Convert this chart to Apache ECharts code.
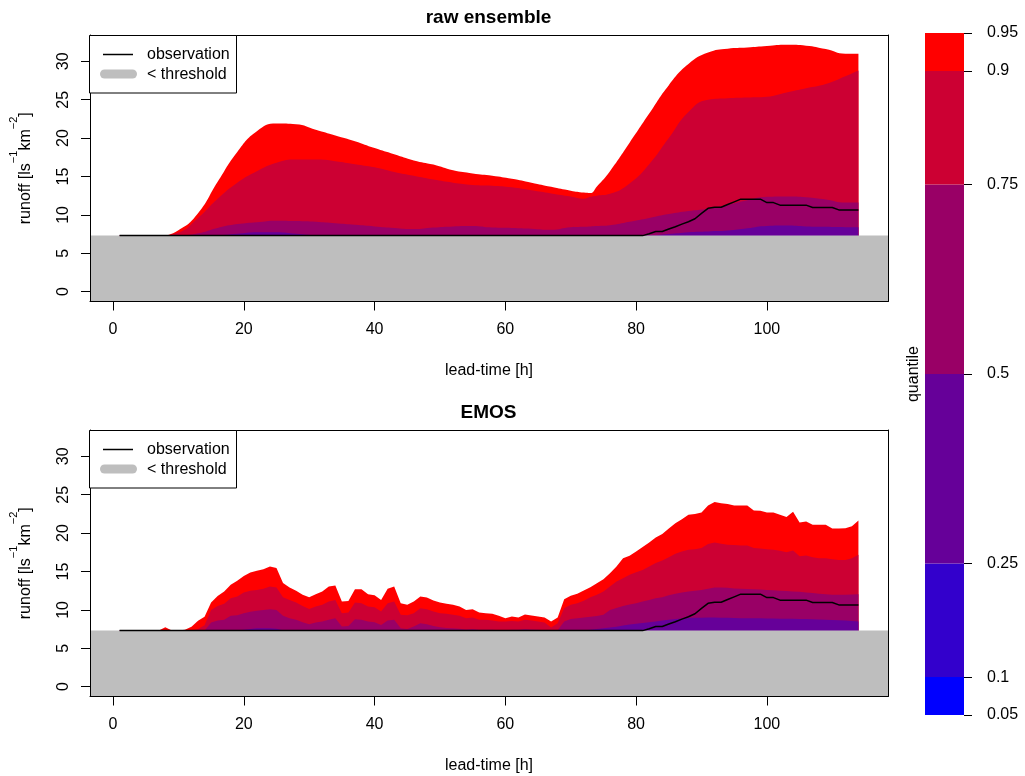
<!DOCTYPE html>
<html>
<head>
<meta charset="utf-8">
<script src="https://cdn.jsdelivr.net/npm/echarts@6/dist/echarts.min.js"></script>
<style>
  html, body { margin: 0; padding: 0; background: #ffffff; }
  #chart { width: 1025px; height: 776px; }
</style>
</head>
<body>
<div id="chart"></div>
<script>
// ---------------------------------------------------------------
// Runoff forecast quantiles: raw ensemble vs. EMOS post-processing
// ---------------------------------------------------------------

const threshold = 7.3;                       // runoff threshold [l s^-1 km^-2]

// quantile levels and the colours of the bands between them
const quantileLevels = [0.05, 0.1, 0.25, 0.5, 0.75, 0.9, 0.95];
const bandColors = ['#0000FF', '#3300CC', '#660099', '#990066', '#CC0033', '#FF0000'];

// x tick labels (lead time, h) and y tick labels (runoff)
const xTicks = [0, 20, 40, 60, 80, 100];
const yTicks = [0, 5, 10, 15, 20, 25, 30];

// ---- raw ensemble (smooth), sampled lead times ----
const rawHours = [1, 4, 7, 10, 13, 16, 19, 22, 25, 28, 31, 34, 37, 40, 43, 46, 49, 52, 55, 58,
  61, 64, 67, 70, 72, 73, 74, 76, 79, 82, 85, 88, 91, 94, 97, 100, 103, 106, 109, 112, 114];
const rawQ95 = [7.3, 7.3, 7.3, 8.0, 10.2, 14.3, 18.2, 20.9, 21.9, 21.8, 21.1, 20.35, 19.6, 18.7, 17.9, 17.1, 16.55, 15.8, 15.4, 15.1,
  14.7, 14.2, 13.65, 13.15, 12.9, 12.85, 13.7, 15.7, 19.4, 23.2, 26.9, 29.65, 31.15, 31.65, 31.8, 32.0, 32.15, 32.05, 31.6, 31.0, 31.0];
const rawQ90 = [7.3, 7.3, 7.3, 7.7, 9.6, 12.1, 14.2, 15.7, 16.8, 17.2, 17.2, 17.0, 16.6, 16.2, 15.6, 15.1, 14.6, 14.2, 13.9, 13.8,
  13.6, 13.2, 12.8, 12.4, 12.1, 12.35, 12.5, 12.75, 14.1, 16.6, 20.0, 23.4, 25.0, 25.2, 25.3, 25.4, 25.95, 26.5, 27.05, 28.05, 28.8];
const rawQ75 = [7.3, 7.3, 7.3, 7.3, 7.6, 8.3, 8.8, 9.05, 9.25, 9.2, 9.1, 8.9, 8.7, 8.5, 8.3, 8.15, 8.35, 8.5, 8.55, 8.35,
  8.3, 8.2, 8.05, 8.4, 8.45, 8.5, 8.55, 8.65, 9.1, 9.6, 10.1, 10.5, 10.8, 11.3, 11.9, 12.35, 12.4, 12.3, 12.0, 11.6, 11.6];
const rawQ50 = [7.3, 7.3, 7.3, 7.3, 7.3, 7.35, 7.55, 7.75, 7.75, 7.55, 7.35, 7.3, 7.3, 7.3, 7.3, 7.3, 7.3, 7.3, 7.3, 7.3,
  7.3, 7.3, 7.3, 7.3, 7.3, 7.3, 7.3, 7.3, 7.3, 7.3, 7.5, 7.75, 7.85, 7.95, 8.25, 8.55, 8.6, 8.5, 8.45, 8.4, 8.4];

// ---- EMOS, hourly lead times 1..114 ----
const emosQ95 = [7.3, 7.3, 7.3, 7.3, 7.3, 7.3, 7.3, 7.75, 7.3, 7.3,
  7.4, 7.8, 8.57, 9.1, 10.96, 11.8, 12.4, 13.26, 13.8, 14.4,
  14.87, 15.1, 15.3, 15.65, 15.44, 13.5, 12.9, 12.5, 11.96, 11.66,
  12.05, 12.4, 13.04, 13.17, 11.09, 11.17, 12.7, 12.7, 12.05, 11.9,
  11.3, 12.74, 13.04, 10.87, 10.66, 11.09, 11.74, 11.6, 11.22, 10.96,
  10.79, 10.66, 10.43, 10.0, 10.09, 9.65, 9.57, 9.48, 9.22, 8.92,
  9.13, 9.0, 9.4, 9.26, 9.13, 9.0, 8.48, 9.0, 11.4, 11.83,
  12.1, 12.52, 12.95, 13.48, 14.0, 14.78, 15.65, 16.74, 17.04, 17.6,
  18.2, 18.78, 19.43, 19.9, 20.6, 21.3, 21.8, 22.4, 22.5, 22.7,
  23.6, 24.05, 23.9, 23.8, 23.6, 23.6, 23.6, 22.96, 22.9, 22.7,
  22.7, 22.4, 22.1, 22.8, 21.4, 21.5, 21.1, 21.1, 21.1, 20.6,
  20.6, 20.65, 20.9, 21.65];
const emosQ90 = [7.3, 7.3, 7.3, 7.3, 7.3, 7.3, 7.3, 7.3, 7.3, 7.3,
  7.3, 7.3, 7.5, 8.0, 10.0, 10.5, 10.8, 11.5, 11.74, 12.26,
  12.5, 12.6, 12.74, 13.04, 12.9, 11.66, 11.3, 10.96, 10.52, 10.13,
  10.43, 10.66, 11.09, 11.3, 9.57, 9.65, 10.96, 10.87, 10.43, 10.35,
  9.78, 10.87, 11.09, 9.35, 9.3, 9.57, 10.22, 10.09, 9.78, 9.57,
  9.48, 9.35, 9.22, 8.92, 9.0, 8.7, 8.7, 8.6, 8.5, 8.48,
  8.55, 8.5, 8.7, 8.6, 8.5, 8.35, 7.7, 8.26, 10.22, 10.66,
  10.87, 11.2, 11.66, 11.96, 12.4, 13.04, 13.7, 14.13, 14.57, 14.9,
  15.2, 15.65, 16.1, 16.44, 16.87, 17.3, 17.6, 17.83, 17.9, 18.05,
  18.57, 18.78, 18.6, 18.48, 18.44, 18.4, 18.4, 18.05, 18.0, 17.9,
  17.83, 17.7, 17.5, 17.74, 17.0, 17.1, 16.87, 16.74, 16.74, 16.6,
  16.5, 16.5, 16.74, 17.18];
const emosQ75 = [7.3, 7.3, 7.3, 7.3, 7.3, 7.3, 7.3, 7.3, 7.3, 7.3,
  7.3, 7.3, 7.3, 7.3, 8.35, 8.6, 8.7, 9.22, 9.3, 9.57,
  9.74, 9.87, 10.0, 10.09, 10.0, 9.22, 8.92, 8.7, 8.4, 8.13,
  8.35, 8.48, 8.7, 8.92, 7.83, 7.9, 8.78, 8.7, 8.48, 8.4,
  8.04, 8.6, 8.7, 7.6, 7.5, 7.83, 8.26, 8.13, 7.9, 7.74,
  7.65, 7.6, 7.55, 7.45, 7.5, 7.4, 7.4, 7.4, 7.35, 7.35,
  7.4, 7.4, 7.5, 7.45, 7.4, 7.35, 7.3, 7.35, 8.5, 8.8,
  8.9, 9.0, 9.1, 9.2, 9.35, 10.0, 10.25, 10.5, 10.7, 10.87,
  11.1, 11.3, 11.5, 11.66, 11.9, 12.1, 12.25, 12.4, 12.5, 12.6,
  12.75, 12.9, 12.9, 12.87, 12.8, 12.74, 12.72, 12.7, 12.65, 12.6,
  12.55, 12.5, 12.45, 12.4, 12.35, 12.26, 12.2, 12.1, 12.05, 11.96,
  11.96, 11.96, 12.0, 12.05];
const emosQ50 = [7.3, 7.3, 7.3, 7.3, 7.3, 7.3, 7.3, 7.3, 7.3, 7.3,
  7.3, 7.3, 7.3, 7.3, 7.3, 7.3, 7.3, 7.3, 7.3, 7.4,
  7.5, 7.6, 7.6, 7.6, 7.55, 7.35, 7.3, 7.3, 7.3, 7.3,
  7.3, 7.3, 7.3, 7.3, 7.3, 7.3, 7.3, 7.3, 7.3, 7.3,
  7.3, 7.3, 7.3, 7.3, 7.3, 7.3, 7.3, 7.3, 7.3, 7.3,
  7.3, 7.3, 7.3, 7.3, 7.3, 7.3, 7.3, 7.3, 7.3, 7.3,
  7.3, 7.3, 7.3, 7.3, 7.3, 7.3, 7.3, 7.3, 7.3, 7.3,
  7.3, 7.35, 7.4, 7.5, 7.6, 7.7, 7.8, 7.95, 8.1, 8.2,
  8.3, 8.4, 8.5, 8.6, 8.7, 8.8, 8.88, 8.94, 8.96, 8.98,
  9.0, 9.0, 8.98, 8.96, 8.94, 8.92, 8.91, 8.9, 8.9, 8.88,
  8.87, 8.86, 8.85, 8.84, 8.82, 8.8, 8.78, 8.75, 8.72, 8.68,
  8.65, 8.6, 8.55, 8.5];

// ---- observed runoff, hourly lead times 1..114 ----
const observation = [7.3, 7.3, 7.3, 7.3, 7.3, 7.3, 7.3, 7.3, 7.3, 7.3,
  7.3, 7.3, 7.3, 7.3, 7.3, 7.3, 7.3, 7.3, 7.3, 7.3,
  7.3, 7.3, 7.3, 7.3, 7.3, 7.3, 7.3, 7.3, 7.3, 7.3,
  7.3, 7.3, 7.3, 7.3, 7.3, 7.3, 7.3, 7.3, 7.3, 7.3,
  7.3, 7.3, 7.3, 7.3, 7.3, 7.3, 7.3, 7.3, 7.3, 7.3,
  7.3, 7.3, 7.3, 7.3, 7.3, 7.3, 7.3, 7.3, 7.3, 7.3,
  7.3, 7.3, 7.3, 7.3, 7.3, 7.3, 7.3, 7.3, 7.3, 7.3,
  7.3, 7.3, 7.3, 7.3, 7.3, 7.3, 7.3, 7.3, 7.3, 7.3,
  7.3, 7.55, 7.83, 7.83, 8.15, 8.45, 8.8, 9.1, 9.5, 10.2,
  10.85, 11.0, 11.0, 11.35, 11.7, 12.05, 12.05, 12.05, 12.05, 11.6,
  11.6, 11.27, 11.27, 11.27, 11.27, 11.27, 10.96, 10.96, 10.96, 10.96,
  10.65, 10.65, 10.65, 10.65];

const emosHours = observation.map((_, i) => i + 1);

// ---------------------------------------------------------------
const FONT = '"Liberation Sans", Arial, Helvetica, sans-serif';

// axis limits with 4 % padding on each side (R style)
const xLo = Math.min(...emosHours), xHi = Math.max(...emosHours);
const xPad = 0.04 * (xHi - xLo);
const xMin = xLo - xPad, xMax = xHi + xPad;
const yTop = Math.max(...rawQ95, ...emosQ95);
const yPad = 0.04 * yTop;
const yMin = -yPad, yMax = yTop + yPad;

const zip = (xs, ys) => xs.map((x, i) => [x, ys[i]]);

const panels = [
  { title: 'raw ensemble', top: 35, hours: rawHours, smooth: 0.5,
    q: { 0.95: rawQ95, 0.9: rawQ90, 0.75: rawQ75, 0.5: rawQ50 } },
  { title: 'EMOS', top: 430, hours: emosHours, smooth: false,
    q: { 0.95: emosQ95, 0.9: emosQ90, 0.75: emosQ75, 0.5: emosQ50 } }
];
const panelLeft = 89, panelWidth = 799, panelHeight = 266.5;

const grid = [], xAxis = [], yAxis = [], series = [], graphic = [];

const axisText = { fontFamily: FONT, fontSize: 16, color: '#000' };

panels.forEach((p, k) => {
  grid.push({ left: panelLeft, top: p.top, width: panelWidth, height: panelHeight, containLabel: false });

  // bottom x axis with ticks / labels
  xAxis.push({
    gridIndex: k, type: 'value', min: xMin, max: xMax, position: 'bottom', z: 10,
    axisLine: { show: true, onZero: false, lineStyle: { color: '#000', width: 1 } },
    axisTick: { show: true, customValues: xTicks, length: 9, lineStyle: { color: '#000', width: 1 } },
    axisLabel: Object.assign({ show: true, customValues: xTicks, margin: 20 }, axisText),
    splitLine: { show: false },
    name: 'lead-time [h]', nameLocation: 'middle', nameGap: 61,
    nameTextStyle: axisText
  });
  // top edge of the box
  xAxis.push({
    gridIndex: k, type: 'value', min: xMin, max: xMax, position: 'top', z: 10,
    axisLine: { show: true, onZero: false, lineStyle: { color: '#000', width: 1 } },
    axisTick: { show: false }, axisLabel: { show: false }, splitLine: { show: false }
  });
  // left y axis with rotated labels
  yAxis.push({
    gridIndex: k, type: 'value', min: yMin, max: yMax, position: 'left', z: 10,
    axisLine: { show: true, onZero: false, lineStyle: { color: '#000', width: 1 } },
    axisTick: { show: true, customValues: yTicks, length: 9, lineStyle: { color: '#000', width: 1 } },
    axisLabel: Object.assign({ show: true, customValues: yTicks, rotate: 90, margin: 18 }, axisText),
    splitLine: { show: false },
    name: '{n|runoff [ls}{s|\u22121}{n|km}{s|\u22122}{n|]}',
    nameLocation: 'middle', nameRotate: 90, nameGap: 56,
    nameTextStyle: {
      fontFamily: FONT, fontSize: 16, color: '#000',
      rich: {
        n: { fontFamily: FONT, fontSize: 16, color: '#000', verticalAlign: 'bottom', lineHeight: 26 },
        s: { fontFamily: FONT, fontSize: 11, color: '#000', verticalAlign: 'top', lineHeight: 12 }
      }
    }
  });
  // right edge of the box
  yAxis.push({
    gridIndex: k, type: 'value', min: yMin, max: yMax, position: 'right', z: 10,
    axisLine: { show: true, onZero: false, lineStyle: { color: '#000', width: 1 } },
    axisTick: { show: false }, axisLabel: { show: false }, splitLine: { show: false }
  });

  const xi = 2 * k, yi = 2 * k;

  // quantile bands, painted from the highest quantile downwards
  [0.95, 0.9, 0.75, 0.5].forEach(level => {
    const band = quantileLevels.indexOf(level) - 1;
    series.push({
      type: 'line', xAxisIndex: xi, yAxisIndex: yi, z: 2, silent: true,
      data: zip(p.hours, p.q[level]),
      smooth: p.smooth,
      symbol: 'none', lineStyle: { width: 0, opacity: 0 },
      areaStyle: { color: bandColors[band], opacity: 1, origin: 'start' }
    });
  });

  // region below the threshold
  series.push({
    type: 'line', xAxisIndex: xi, yAxisIndex: yi, z: 3, silent: true,
    data: [[xMin, threshold], [xMax, threshold]],
    symbol: 'none', lineStyle: { width: 0, opacity: 0 },
    areaStyle: { color: '#BEBEBE', opacity: 1, origin: 'start' }
  });

  // observation
  series.push({
    type: 'line', xAxisIndex: xi, yAxisIndex: yi, z: 4, silent: true,
    data: zip(emosHours, observation),
    symbol: 'none', lineStyle: { color: '#000', width: 1.5 }
  });

  // panel title
  graphic.push({
    type: 'text', x: panelLeft + panelWidth / 2, y: p.top - 17, z: 20,
    style: { text: p.title, fontFamily: FONT, fontSize: 19, fontWeight: 'bold', fill: '#000',
             textAlign: 'center', textVerticalAlign: 'middle', align: 'center', verticalAlign: 'middle' }
  });

  // legend
  const ly = p.top;
  graphic.push({
    type: 'rect', z: 20, shape: { x: panelLeft + 0.5, y: ly + 0.5, width: 147, height: 57.5 },
    style: { fill: '#fff', stroke: '#000', lineWidth: 1 }
  });
  graphic.push({
    type: 'line', z: 21, shape: { x1: 103, y1: ly + 19.5, x2: 133, y2: ly + 19.5 },
    style: { stroke: '#000', lineWidth: 1.5 }
  });
  graphic.push({
    type: 'line', z: 21, shape: { x1: 104.5, y1: ly + 39, x2: 132.5, y2: ly + 39 },
    style: { stroke: '#BEBEBE', lineWidth: 9, lineCap: 'round' }
  });
  [['observation', 20], ['< threshold', 39.5]].forEach(([t, dy]) => {
    graphic.push({
      type: 'text', z: 21, x: 147, y: ly + dy,
      style: { text: t, fontFamily: FONT, fontSize: 16, fill: '#000',
               textAlign: 'left', textVerticalAlign: 'middle', align: 'left', verticalAlign: 'middle' }
    });
  });
});

// ---- colour bar of the quantile bands ----
const barLeft = 925, barTop = 33, barWidth = 39, barHeight = 682;
const qMin = quantileLevels[0], qMax = quantileLevels[quantileLevels.length - 1];

// grid 2: the coloured bar itself
grid.push({ left: barLeft, top: barTop, width: barWidth, height: barHeight, containLabel: false });
xAxis.push({ gridIndex: 2, type: 'value', min: 0, max: 1, show: false });
yAxis.push({ gridIndex: 2, type: 'value', min: qMin, max: qMax, show: false });

// grid 3: the quantile scale to the right of the bar
grid.push({ left: barLeft + barWidth, top: barTop, width: 50, height: barHeight, containLabel: false });
xAxis.push({ gridIndex: 3, type: 'value', min: 0, max: 1, show: false });
yAxis.push({
  gridIndex: 3, type: 'value', min: qMin, max: qMax, position: 'left', z: 10,
  axisLine: { show: false, onZero: false },
  axisTick: { show: true, inside: true, customValues: quantileLevels, length: 8,
              lineStyle: { color: '#000', width: 1 } },
  axisLabel: Object.assign({ show: true, inside: true, customValues: quantileLevels, margin: 23 }, axisText),
  splitLine: { show: false }
});

series.push({
  type: 'custom', xAxisIndex: 4, yAxisIndex: 4, silent: true, z: 2,
  data: bandColors.map((c, i) => [quantileLevels[i], quantileLevels[i + 1]]),
  encode: { y: [0, 1] },
  renderItem: (params, api) => {
    const lo = api.value(0), hi = api.value(1);
    const a = api.coord([0, hi]);
    const b = api.coord([1, lo]);
    return {
      type: 'rect',
      shape: { x: a[0], y: a[1], width: b[0] - a[0], height: b[1] - a[1] },
      style: { fill: bandColors[params.dataIndex], stroke: null, lineWidth: 0 }
    };
  }
});
graphic.push({
  type: 'text', z: 20, x: 914, y: barTop + barHeight / 2, rotation: Math.PI / 2,
  style: { text: 'quantile', fontFamily: FONT, fontSize: 16, fill: '#000',
           textAlign: 'center', textVerticalAlign: 'middle', align: 'center', verticalAlign: 'middle' }
});

const chart = echarts.init(document.getElementById('chart'), null, { renderer: 'canvas' });
chart.setOption({
  animation: false,
  backgroundColor: '#ffffff',
  textStyle: { fontFamily: FONT },
  grid, xAxis, yAxis, series, graphic
});
</script>
</body>
</html>
